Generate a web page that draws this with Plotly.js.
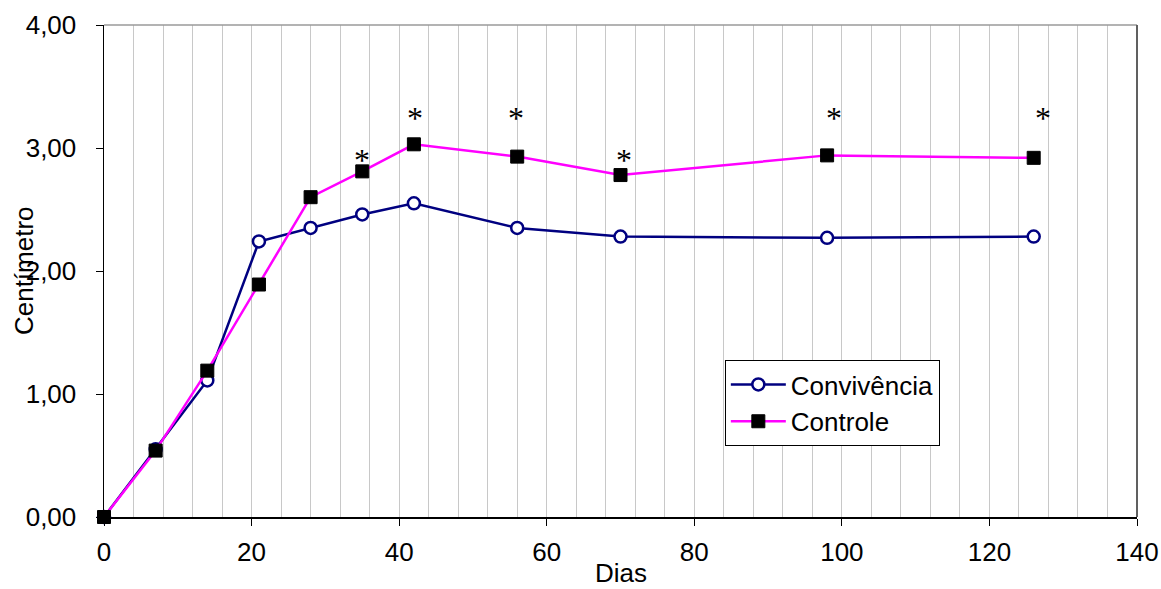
<!DOCTYPE html>
<html>
<head>
<meta charset="utf-8">
<script src="https://cdn.plot.ly/plotly-3.0.1.min.js"></script>
<style>html,body{margin:0;padding:0;background:#fff;}#chart{width:1161px;height:589px;}</style>
</head>
<body>
<div id="chart"></div>
<script>
const dias = [0, 7, 14, 21, 28, 35, 42, 56, 70, 98, 126];
const convivencia = [0, 0.55, 1.11, 2.24, 2.35, 2.46, 2.55, 2.35, 2.28, 2.27, 2.28];
const controle = [0, 0.54, 1.19, 1.89, 2.60, 2.81, 3.03, 2.93, 2.78, 2.94, 2.92];
const asteriscoX = [34.9, 42.2, 55.8, 70.5, 98.9, 127.2];
const asteriscoY = [2.93, 3.27, 3.27, 2.93, 3.27, 3.27];
const xTicks = [0, 20, 40, 60, 80, 100, 120, 140];
const yTicks = [0, 1, 2, 3, 4];

const traces = [
  {x: dias, y: convivencia, name: 'Convivência', type: 'scatter', mode: 'lines+markers',
   cliponaxis: false,
   line: {color: '#000080', width: 2.5},
   marker: {symbol: 'circle', size: 12, color: '#ffffff', line: {color: '#000080', width: 2.5}}},
  {x: dias, y: controle, name: 'Controle', type: 'scatter', mode: 'lines+markers',
   cliponaxis: false,
   line: {color: '#ff00ff', width: 2.5},
   marker: {symbol: 'square', size: 13, color: '#000000', line: {color: '#000000', width: 1}}}
];

const annotations = asteriscoX.map((x, i) => ({
  x: x, y: asteriscoY[i], xref: 'x', yref: 'y', text: '*', showarrow: false,
  yshift: -3,
  font: {family: 'Liberation Serif, Times New Roman, serif', size: 32, color: '#000'}
}));
annotations.push({
  text: 'Centímetro', textangle: -90, showarrow: false,
  xref: 'paper', yref: 'paper', x: -0.0774, y: 0.5, xanchor: 'center', yanchor: 'middle',
  font: {size: 26}
});
annotations.push({
  text: 'Dias', showarrow: false,
  xref: 'paper', yref: 'paper', x: 0.5, y: -0.1138, xanchor: 'center', yanchor: 'middle',
  font: {size: 26}
});

const layout = {
  width: 1161, height: 589,
  margin: {l: 104, r: 24, t: 25, b: 72},
  paper_bgcolor: '#fff', plot_bgcolor: '#fff',
  font: {family: 'Liberation Sans, Arial, sans-serif', size: 26, color: '#000'},
  showlegend: true,
  legend: {x: 0.601, y: 0.319, xanchor: 'left', yanchor: 'top',
    bgcolor: '#fff', bordercolor: '#000', borderwidth: 1,
    font: {size: 26}, traceorder: 'normal', itemwidth: 55},
  xaxis: {range: [0, 140], tickvals: xTicks, ticktext: xTicks.map(String),
    showgrid: true, gridcolor: '#c8c8c8', gridwidth: 1,
    minor: {dtick: 4, tick0: 0, showgrid: true, gridcolor: '#c8c8c8', gridwidth: 1, ticklen: 0},
    showline: true, linecolor: '#000', linewidth: 1.5,
    ticks: 'outside', ticklen: 7, tickcolor: '#000', tickwidth: 1,
    ticklabelstandoff: 4,
    zeroline: false, layer: 'below traces',
    tickfont: {size: 26}},
  yaxis: {range: [0, 4], tickvals: yTicks, ticktext: yTicks.map(v => v.toFixed(2).replace('.', ',')),
    showgrid: false, showline: true, linecolor: '#000', linewidth: 1.5,
    ticks: 'outside', ticklen: 7, tickcolor: '#000', tickwidth: 1,
    ticklabelstandoff: 14,
    zeroline: false, layer: 'below traces',
    tickfont: {size: 26}},
  shapes: [
    {type: 'line', xref: 'paper', yref: 'paper', x0: 0, x1: 1, y0: 1, y1: 1,
     line: {color: '#9a9a9a', width: 1.5}},
    {type: 'line', xref: 'paper', yref: 'paper', x0: 1, x1: 1, y0: 0, y1: 1,
     line: {color: '#606060', width: 2}}
  ],
  annotations: annotations
};

Plotly.newPlot('chart', traces, layout, {displayModeBar: false, staticPlot: true});
</script>
</body>
</html>
